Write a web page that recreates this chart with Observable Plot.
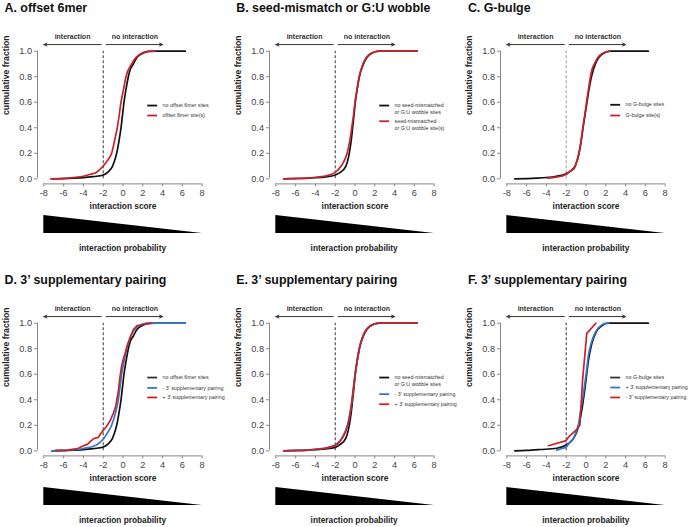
<!DOCTYPE html>
<html><head><meta charset="utf-8">
<script src="https://cdn.jsdelivr.net/npm/d3@7"></script>
<script src="https://cdn.jsdelivr.net/npm/@observablehq/plot@0.6"></script>
<style>
body{margin:0;background:#fff;font-family:"Liberation Sans",Arial,sans-serif;}
#root{position:relative;width:691px;height:527px;overflow:hidden;background:#fff;}
.panel{position:absolute;width:232px;height:256px;}
.panel svg{position:absolute;left:0;overflow:visible;}
.title{position:absolute;left:4.5px;top:1px;font-weight:bold;font-size:12.4px;line-height:15px;white-space:nowrap;color:#111;}
.prob{position:absolute;left:22.5px;width:200px;top:243px;text-align:center;font-weight:bold;font-size:8.3px;line-height:10px;color:#222;white-space:nowrap;}
</style>
</head><body><div id="root"></div>
<script>
// ---- tick labels ----
const xTicks = [-8, -6, -4, -2, 0, 2, 4, 6, 8];
const yTicks = [0, 0.2, 0.4, 0.6, 0.8, 1.0];

// ---- curves: [interaction score, cumulative fraction] ----
const aNoOffset = [[-7.2,0],[-6,0.002],[-5,0.005],[-4,0.009],[-3,0.017],[-2.5,0.022],[-2,0.03],[-1.5,0.055],[-1.05,0.1],[-0.64,0.2],[-0.4,0.3],[-0.2,0.4],[-0.05,0.5],[0.1,0.6],[0.3,0.7],[0.54,0.8],[0.75,0.86],[1.05,0.9],[1.4,0.95],[1.9,0.98],[2.6,0.998],[3.5,1],[6.3,1]];
const aOffset = [[-7.3,0],[-6,0.004],[-5,0.01],[-4,0.02],[-3.3,0.035],[-2.7,0.05],[-2,0.1],[-1.5,0.15],[-1.15,0.2],[-0.85,0.3],[-0.58,0.4],[-0.38,0.5],[-0.2,0.6],[0.05,0.7],[0.3,0.8],[0.88,0.9],[1.3,0.95],[1.8,0.98],[2.5,0.998],[3.2,1]];

const bNoSeedMM = [[-7.2,0],[-6,0.002],[-5,0.004],[-4,0.008],[-3,0.015],[-2,0.03],[-1.5,0.05],[-0.92,0.1],[-0.58,0.2],[-0.38,0.3],[-0.24,0.4],[-0.1,0.5],[0.03,0.6],[0.22,0.7],[0.44,0.8],[0.85,0.9],[1.2,0.95],[1.6,0.98],[2.45,1],[6.3,1]];
const bSeedMM = [[-7.2,0],[-6,0.003],[-5,0.006],[-4,0.012],[-3,0.022],[-2,0.05],[-1.4,0.1],[-0.8,0.2],[-0.52,0.3],[-0.33,0.4],[-0.15,0.5],[0,0.6],[0.2,0.7],[0.42,0.8],[0.8,0.9],[1.15,0.95],[1.55,0.98],[2.4,1],[6.3,1]];

const cNoGBulge = [[-7.2,0],[-6,0.002],[-5,0.005],[-4,0.01],[-3,0.02],[-2,0.04],[-1.5,0.065],[-1.1,0.1],[-0.7,0.2],[-0.48,0.3],[-0.3,0.4],[-0.1,0.5],[0.1,0.6],[0.3,0.7],[0.55,0.8],[0.95,0.9],[1.3,0.95],[1.7,0.98],[2.5,1],[6.3,1]];
const cGBulge = [[-3.9,0.005],[-3,0.013],[-2.5,0.02],[-2,0.035],[-1.6,0.06],[-1.2,0.08],[-1.0,0.12],[-0.72,0.2],[-0.5,0.3],[-0.32,0.4],[-0.12,0.5],[0.05,0.6],[0.25,0.7],[0.45,0.8],[0.62,0.86],[0.85,0.9],[1.2,0.95],[1.6,0.98],[2.4,1]];

const dNoOffset = aNoOffset;
const dMinus3p = [[-7.2,0],[-6,0.003],[-5,0.008],[-4,0.018],[-3,0.036],[-2.6,0.05],[-2,0.09],[-1.5,0.15],[-1.15,0.2],[-0.75,0.3],[-0.47,0.4],[-0.3,0.5],[-0.14,0.6],[0.1,0.7],[0.37,0.8],[0.78,0.9],[1.15,0.95],[1.6,0.98],[2.4,1],[6.3,1]];
const dPlus3p = [[-6.8,0.003],[-5.6,0.006],[-4.8,0.015],[-4.5,0.02],[-4.1,0.036],[-3.6,0.05],[-3.35,0.07],[-2.95,0.096],[-2.5,0.105],[-2.3,0.13],[-2.0,0.16],[-1.67,0.19],[-1.27,0.24],[-1.0,0.29],[-0.76,0.34],[-0.62,0.4],[-0.45,0.48],[-0.3,0.58],[-0.15,0.66],[0.0,0.71],[0.2,0.76],[0.4,0.82],[0.75,0.89],[1.05,0.95],[1.4,0.98],[2.0,0.99],[2.9,1]];

const eNoSeedMM = [[-7.2,0],[-6,0.002],[-5,0.004],[-4,0.008],[-3,0.014],[-2,0.027],[-1.5,0.05],[-0.92,0.1],[-0.58,0.2],[-0.38,0.3],[-0.24,0.4],[-0.1,0.5],[0.03,0.6],[0.22,0.7],[0.44,0.8],[0.85,0.9],[1.2,0.95],[1.6,0.98],[2.45,1],[6.3,1]];
const eMinus3p = [[-7.2,0],[-6,0.003],[-5,0.006],[-4,0.012],[-3,0.022],[-2,0.045],[-1.5,0.08],[-1.0,0.15],[-0.7,0.22],[-0.45,0.32],[-0.3,0.4],[-0.15,0.5],[0,0.6],[0.2,0.7],[0.42,0.8],[0.8,0.9],[1.15,0.95],[1.55,0.98],[2.4,1]];
const ePlus3p = [[-7.2,0],[-6,0.003],[-5,0.006],[-4,0.012],[-3,0.02],[-2,0.042],[-1.5,0.075],[-1.0,0.14],[-0.7,0.21],[-0.45,0.31],[-0.3,0.4],[-0.14,0.5],[0.02,0.6],[0.2,0.7],[0.43,0.8],[0.8,0.9],[1.15,0.95],[1.55,0.98],[2.4,1],[6.3,1]];

const fNoGBulge = [[-7.2,0],[-6,0.003],[-4.6,0.01],[-2.95,0.02],[-2,0.045],[-1.27,0.096],[-0.76,0.19],[-0.42,0.32],[-0.09,0.5],[0.25,0.71],[0.59,0.84],[1.02,0.93],[1.6,0.98],[2.27,1],[6.3,1]];
const fPlus3p = [[-2.95,0.005],[-2.44,0.018],[-2,0.03],[-1.6,0.07],[-1.27,0.096],[-1.0,0.15],[-0.76,0.21],[-0.53,0.32],[-0.26,0.45],[0.01,0.6],[0.25,0.75],[0.59,0.86],[1.02,0.94],[1.6,0.987],[2.1,1],[2.3,1]];
const fMinus3p = [[-3.8,0.04],[-2.0,0.08],[-1.75,0.11],[-0.9,0.17],[-0.62,0.2],[-0.35,0.55],[0.08,0.92],[1.0,1]];

// ---- annotation text ----
const arrowLabels = ["interaction", "no interaction"];
const FONT = '"Liberation Sans", Arial, Helvetica, sans-serif';
const BLACK = "#111", RED = "#c8232b", BLUE = "#3878c8";

const panels = [
  {ox: 0, oy: 0, title: "A. offset 6mer", dash: "#333",
   series: [{d: aNoOffset, c: BLACK}, {d: aOffset, c: RED}],
   legend: [{y: 0.574, c: BLACK, t: ["no offset 6mer sites"]}, {y: 0.496, c: RED, t: ["offset 6mer site(s)"]}]},
  {ox: 231.7, oy: 0, title: "B. seed-mismatch or G:U wobble", dash: "#333",
   series: [{d: bNoSeedMM, c: BLACK}, {d: bSeedMM, c: RED}],
   legend: [{y: 0.574, c: BLACK, t: ["no seed-mismatched", "or G:U wobble sites"]}, {y: 0.451, c: RED, t: ["seed-mismatched", "or G:U wobble site(s)"]}]},
  {ox: 463.4, oy: 0, title: "C. G-bulge", dash: "#999",
   series: [{d: cNoGBulge, c: BLACK}, {d: cGBulge, c: RED}],
   legend: [{y: 0.58, c: BLACK, t: ["no G-bulge sites"]}, {y: 0.496, c: RED, t: ["G-bulge site(s)"]}]},
  {ox: 0, oy: 271.6, title: "D. 3\u2019 supplementary pairing", dash: "#333",
   series: [{d: dNoOffset, c: BLACK}, {d: dMinus3p, c: BLUE}, {d: dPlus3p, c: RED, linear: true}],
   legend: [{y: 0.574, c: "#333", t: ["no offset 6mer sites"]}, {y: 0.493, c: BLUE, t: ["- 3\u2019 supplementary pairing"]}, {y: 0.418, c: RED, t: ["+ 3\u2019 supplementary pairing"]}]},
  {ox: 231.7, oy: 271.6, title: "E. 3\u2019 supplementary pairing", dash: "#333",
   series: [{d: eNoSeedMM, c: BLACK}, {d: eMinus3p, c: BLUE}, {d: ePlus3p, c: RED}],
   legend: [{y: 0.574, c: BLACK, t: ["no seed-mismatched", "or G:U wobble sites"]}, {y: 0.444, c: BLUE, t: ["- 3\u2019 supplementary pairing"]}, {y: 0.365, c: RED, t: ["+ 3\u2019 supplementary pairing"]}]},
  {ox: 463.4, oy: 271.6, title: "F. 3\u2019 supplementary pairing", dash: "#333",
   series: [{d: fNoGBulge, c: BLACK}, {d: fPlus3p, c: BLUE}, {d: fMinus3p, c: RED, linear: true}],
   legend: [{y: 0.574, c: "#333", t: ["no G-bulge sites"]}, {y: 0.496, c: BLUE, t: ["+ 3\u2019 supplementary pairing"]}, {y: 0.418, c: RED, t: ["- 3\u2019 supplementary pairing"]}]}
];

const X_DOMAIN = [-8.64, 8.64];
const Y_DOMAIN = [-0.04, 1.04];
const ARROW_Y = 1.052, ARROW_TEXT_Y = 1.11;
const arrows = [{x1: -2.2, x2: -8, tx: -5.1, t: arrowLabels[0]}, {x1: -1.7, x2: 4, tx: 1.2, t: arrowLabels[1]}];
const LEG_X1 = 2.5, LEG_X2 = 3.5, LEG_TX = 4.0;

const root = document.getElementById("root");

for (const p of panels) {
  const div = document.createElement("div");
  div.className = "panel";
  div.style.left = p.ox + "px";
  div.style.top = p.oy + "px";
  const t = document.createElement("div");
  t.className = "title"; t.textContent = p.title;
  div.appendChild(t);

  const marks = [
    Plot.ruleX([X_DOMAIN[0]], {y1: 0, y2: 1, stroke: "#888", strokeWidth: 1}),
    Plot.ruleY([Y_DOMAIN[0]], {x1: xTicks[0], x2: xTicks[xTicks.length - 1], stroke: "#888", strokeWidth: 1}),
    Plot.axisY({ticks: yTicks, tickSize: 3, tickPadding: 2.5, tickFormat: d3.format(".1f"), fontSize: 9.2, stroke: "#888", fill: "#444", label: null}),
    Plot.axisX({ticks: xTicks, tickSize: 3, tickPadding: 2.5, tickFormat: d => String(d), fontSize: 9.2, stroke: "#888", fill: "#444", label: null}),
    Plot.text(["cumulative fraction"], {frameAnchor: "left", dx: -31, rotate: -90, fontSize: 8.7, fontWeight: "bold", fill: "#222"}),
    Plot.text(["interaction score"], {frameAnchor: "bottom", dy: 25, fontSize: 8.3, fontWeight: "bold", fill: "#222"}),
    Plot.ruleX([-2], {y1: 0, y2: 1, stroke: p.dash, strokeWidth: 1, strokeDasharray: "3,2"}),
    Plot.arrow(arrows, {x1: "x1", x2: "x2", y1: ARROW_Y, y2: ARROW_Y, stroke: "#333", strokeWidth: 1, headLength: 5, headAngle: 50}),
    Plot.text(arrows, {x: "tx", y: ARROW_TEXT_Y, text: "t", fontSize: 7, fontWeight: "bold", fill: "#333"})
  ];
  for (const s of p.series) {
    marks.push(Plot.line(s.d, {stroke: s.c, strokeWidth: 1.7, curve: s.linear ? "linear" : "monotone-x"}));
  }
  for (const L of p.legend) {
    marks.push(Plot.ruleY([L.y], {x1: LEG_X1, x2: LEG_X2, stroke: L.c, strokeWidth: 1.8}));
    L.t.forEach((line, i) => {
      marks.push(Plot.text([line], {x: LEG_TX, y: L.y, dy: i * 7, textAnchor: "start", fontSize: 5.3, fill: "#333"}));
    });
  }

  const main = Plot.plot({
    width: 232, height: 214,
    marginLeft: 37, marginRight: 24, marginTop: 45.6, marginBottom: 30.6,
    x: {domain: X_DOMAIN},
    y: {domain: Y_DOMAIN},
    style: {fontFamily: FONT, background: "transparent", overflow: "visible"},
    marks
  });
  main.style.top = "0px";
  div.appendChild(main);

  const tri = Plot.plot({
    width: 232, height: 18,
    marginLeft: 37, marginRight: 24, marginTop: 0, marginBottom: 0,
    x: {domain: X_DOMAIN, axis: null},
    y: {domain: [0, 1], axis: null},
    style: {background: "transparent", overflow: "visible"},
    marks: [Plot.areaY([[-8, 1], [8, 0]], {x: d => d[0], y1: 0, y2: d => d[1], fill: "#000"})]
  });
  tri.style.top = "215px";
  div.appendChild(tri);

  const pr = document.createElement("div");
  pr.className = "prob"; pr.textContent = "interaction probability";
  div.appendChild(pr);

  root.appendChild(div);
}
</script>
</body></html>
